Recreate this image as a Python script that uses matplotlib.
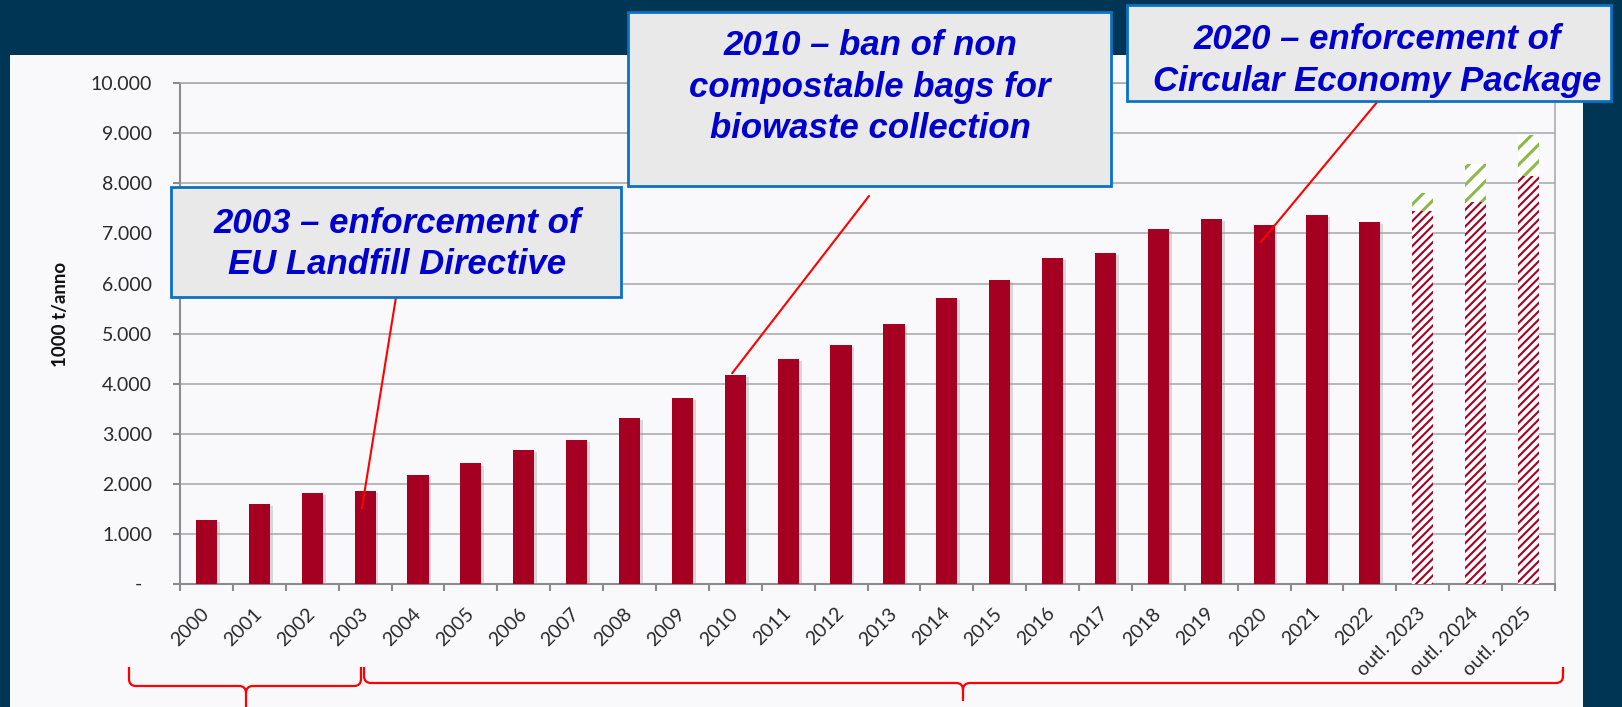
import matplotlib
matplotlib.use("Agg")
import matplotlib.pyplot as plt
import numpy as np
from matplotlib.patches import Rectangle, PathPatch
from matplotlib.path import Path
from matplotlib import patheffects as pe

plt.rcParams['font.family'] = ['Lato', 'DejaVu Sans']

# data (1000 t/anno)
years = [str(y) for y in range(2000, 2023)] + ['outl. 2023', 'outl. 2024', 'outl. 2025']
actual = [1285, 1595, 1825, 1870, 2190, 2410, 2680, 2880, 3320, 3720, 4170,
          4490, 4780, 5190, 5720, 6065, 6510, 6617, 7080, 7280, 7160, 7370, 7225]
outlook_low = [7440, 7630, 8150]
outlook_high = [7800, 8380, 8960]

RED = '#A50021'
GREEN = '#8DB84A'
NAVY = '#013554'
GRID = '#A6A6A6'
SPINE = '#8C8C8C'
TXT = '#2A2A2A'
BLUE_TXT = '#0000CC'

W, H = 1622, 707


def fx(px):
    return px / W


def fy(py):
    return 1 - py / H


fig = plt.figure(figsize=(W / 100, H / 100), dpi=100)
fig.patch.set_facecolor(NAVY)
fig.add_artist(Rectangle((fx(10), 0), (1583 - 10) / W, (H - 55) / H,
                         transform=fig.transFigure, facecolor='#F9F9FC',
                         edgecolor='none', zorder=-10))

ax = fig.add_axes([fx(180), fy(584.3), 1375 / W, (584.3 - 83) / H])
ax.patch.set_visible(False)

x = np.arange(len(years))
n_act = len(actual)
xo = x[n_act:]

shadow = [pe.SimplePatchShadow(offset=(2, -1.5), shadow_rgbFace='#9a9a9a', alpha=0.35), pe.Normal()]
ax.bar(x[:n_act], actual, width=0.4, color=RED, zorder=3, path_effects=shadow)

plt.rcParams['hatch.linewidth'] = 1.5
low = ax.bar(xo, outlook_low, width=0.4, facecolor='white', edgecolor=RED,
             linewidth=0, hatch='////', zorder=3)
for b in low:
    if hasattr(b, 'set_hatch_linewidth'):
        b.set_hatch_linewidth(1.5)

plt.rcParams['hatch.linewidth'] = 2.2
high = ax.bar(xo, np.array(outlook_high) - np.array(outlook_low), bottom=outlook_low,
              width=0.4, facecolor='white', edgecolor=GREEN, linewidth=0,
              hatch='//', zorder=3)
for b in high:
    if hasattr(b, 'set_hatch_linewidth'):
        b.set_hatch_linewidth(2.2)

ax.set_xlim(-0.5, len(years) - 0.5)
ax.set_ylim(0, 10000)

ax.set_yticks(range(0, 10001, 1000))
ax.set_yticklabels(['' if v == 0 else '{:,}'.format(v).replace(',', '.')
                    for v in range(0, 10001, 1000)])
ax.text(-0.0305, 0, '-', transform=ax.get_yaxis_transform(), ha='center',
        va='center', fontsize=14, color=TXT)
ax.tick_params(axis='y', length=5, width=1.5, color=SPINE, pad=15,
               labelsize=14, labelcolor=TXT)

ax.set_xticks(x)
ax.set_xticklabels(years, rotation=45, ha='right', va='center', rotation_mode='anchor')
ax.set_xticks(np.arange(-0.5, len(years), 1), minor=True)
ax.tick_params(axis='x', which='major', length=0, pad=19, labelsize=14, labelcolor=TXT)
ax.tick_params(axis='x', which='minor', length=5, width=1.5, color=SPINE)

ax.yaxis.grid(True, color=GRID, lw=1.1)
ax.set_axisbelow(True)
for side in ['left', 'bottom']:
    ax.spines[side].set_color(SPINE)
    ax.spines[side].set_linewidth(1.5)
for side in ['top', 'right']:
    ax.spines[side].set_color(GRID)
    ax.spines[side].set_linewidth(1.1)

fig.text(fx(61), fy(314), '1000 t/anno', rotation=90, ha='center', va='center',
         fontsize=13.5, fontweight='bold', color='#111111')

# annotation boxes
boxes = [
    ((171, 187, 621, 297), 397, [('2003 – enforcement of', 233), ('EU Landfill Directive', 274)]),
    ((628, 12, 1111, 186), 870, [('2010 – ban of non', 55), ('compostable bags for', 97),
                                ('biowaste collection', 138)]),
    ((1127, 5, 1611, 101), 1377, [('2020 – enforcement of', 49), ('Circular Economy Package', 91)]),
]
for (x0, y0, x1, y1), cx, lines in boxes:
    fig.add_artist(Rectangle((fx(x0), fy(y1)), (x1 - x0) / W, (y1 - y0) / H,
                             transform=fig.transFigure, facecolor='#E9E9E9',
                             edgecolor='#0A72C2', lw=2, zorder=5))
    for s, base in lines:
        fig.text(fx(cx), fy(base), s, ha='center', va='baseline', fontsize=25,
                 fontweight='bold', fontstyle='italic', family='Liberation Sans',
                 color=BLUE_TXT, zorder=6)

# pointer lines from boxes to bars
pointers = [
    (3, actual[3] - 350, 396, 297),
    (10, actual[10] + 40, 869, 196),
    (20, actual[20] - 330, 1378, 101),
]
for i, yv, sx, sy in pointers:
    ax.annotate('', xy=(i - 0.06, yv), xycoords='data',
                xytext=(fx(sx), fy(sy)), textcoords='figure fraction',
                arrowprops=dict(arrowstyle='-', color='red', lw=1.5,
                                shrinkA=0, shrinkB=0),
                annotation_clip=False, zorder=4)


# braces under the axis
def brace(x0, x1, xm, ytop, yh, ytip, r=7):
    L, C, M = Path.LINETO, Path.CURVE3, Path.MOVETO
    left = [(x0, ytop), (x0, yh - r), (x0, yh), (x0 + r, yh), (xm - r, yh),
            (xm, yh), (xm, yh + r), (xm, ytip)]
    right = [(x1, ytop), (x1, yh - r), (x1, yh), (x1 - r, yh), (xm + r, yh),
             (xm, yh), (xm, yh + r)]
    codes_l = [M, L, C, C, L, C, C, L]
    codes_r = [M, L, C, C, L, C, C]
    verts = [(fx(a), fy(b)) for a, b in left + right]
    path = Path(verts, codes_l + codes_r)
    fig.add_artist(PathPatch(path, transform=fig.transFigure, facecolor='none',
                             edgecolor='red', lw=1.6, zorder=5))


brace(129, 361, 246, 667, 686, 707)
brace(364, 1563, 963, 667, 683, 701)

fig.savefig('out.png', dpi=100, facecolor=fig.get_facecolor())
